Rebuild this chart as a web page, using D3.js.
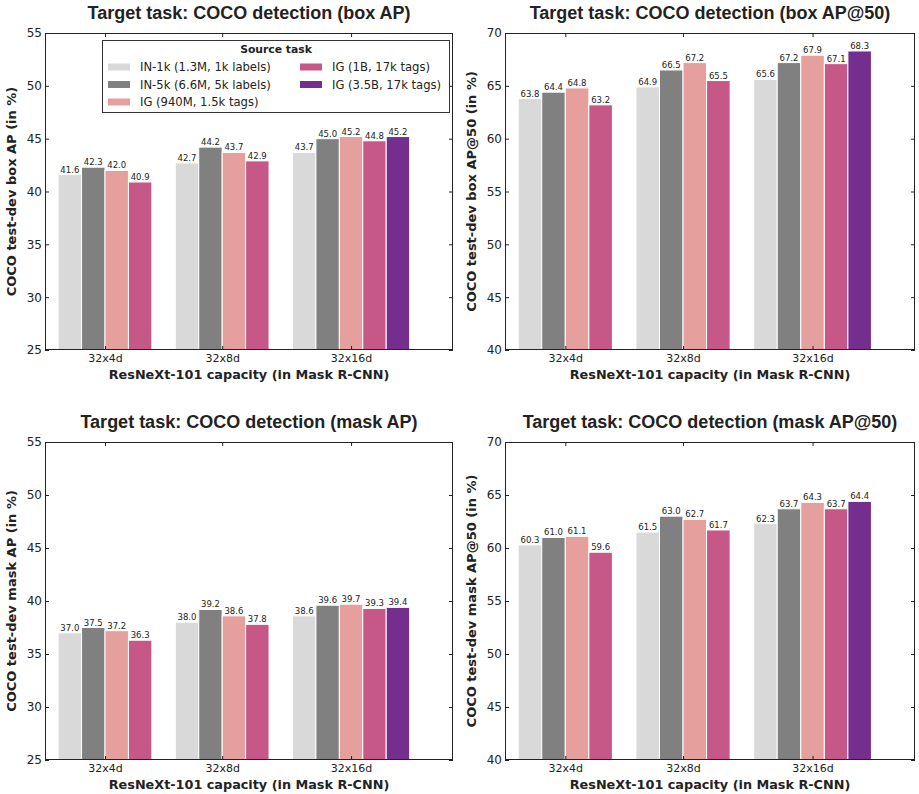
<!DOCTYPE html>
<html>
<head>
<meta charset="utf-8">
<script src="https://cdn.jsdelivr.net/npm/d3@7"></script>
<style>
  body { margin: 0; background: #fff; }
  svg text { fill: #222; }
</style>
</head>
<body>
<svg id="chart" width="919" height="794"></svg>
<script>
// ---------- data ----------
const categories = ["32x4d", "32x8d", "32x16d"];
const sources = [
  "IN-1k (1.3M, 1k labels)",
  "IN-5k (6.6M, 5k labels)",
  "IG (940M, 1.5k tags)",
  "IG (1B, 17k tags)",
  "IG (3.5B, 17k tags)"
];
const sourceColors = ["#d9d9d9", "#808080", "#e59f9d", "#c55887", "#742f8e"];

const boxAP     = [[41.6, 42.3, 42.0, 40.9], [42.7, 44.2, 43.7, 42.9], [43.7, 45.0, 45.2, 44.8, 45.2]];
const boxAP50   = [[63.8, 64.4, 64.8, 63.2], [64.9, 66.5, 67.2, 65.5], [65.6, 67.2, 67.9, 67.1, 68.3]];
const maskAP    = [[37.0, 37.5, 37.2, 36.3], [38.0, 39.2, 38.6, 37.8], [38.6, 39.6, 39.7, 39.3, 39.4]];
const maskAP50  = [[60.3, 61.0, 61.1, 59.6], [61.5, 63.0, 62.7, 61.7], [62.3, 63.7, 64.3, 63.7, 64.4]];

const ticksAP   = [25, 30, 35, 40, 45, 50, 55];
const ticksAP50 = [40, 45, 50, 55, 60, 65, 70];

const titles = [
  "Target task: COCO detection (box AP)",
  "Target task: COCO detection (box AP@50)",
  "Target task: COCO detection (mask AP)",
  "Target task: COCO detection (mask AP@50)"
];
const yLabels = [
  "COCO test-dev box AP (in %)",
  "COCO test-dev box AP@50 (in %)",
  "COCO test-dev mask AP (in %)",
  "COCO test-dev mask AP@50 (in %)"
];
const xLabel = "ResNeXt-101 capacity (in Mask R-CNN)";
const legendTitle = "Source task";

// ---------- layout ----------
const panels = [
  { data: boxAP,    ticks: ticksAP,   x: 45,  y: 33,  w: 408, h: 317, title: titles[0], ylab: yLabels[0], legend: true },
  { data: boxAP50,  ticks: ticksAP50, x: 505, y: 33,  w: 410, h: 317, title: titles[1], ylab: yLabels[1] },
  { data: maskAP,   ticks: ticksAP,   x: 45,  y: 442, w: 408, h: 318, title: titles[2], ylab: yLabels[2] },
  { data: maskAP50, ticks: ticksAP50, x: 505, y: 442, w: 410, h: 318, title: titles[3], ylab: yLabels[3] }
];

const svg = d3.select("#chart");
const sans = "'DejaVu Sans', sans-serif";
const helv = "'Liberation Sans', Arial, sans-serif";

panels.forEach(p => {
  const g = svg.append("g").attr("transform", `translate(${p.x},${p.y})`);

  // x in "bar units": each group occupies 5 bar slots
  const xu = d3.scaleLinear().domain([-0.56, 16.85]).range([0, p.w]);
  const xGroup = d3.scaleBand().domain(categories).range([xu(0), xu(15)]).paddingInner(0).paddingOuter(0);
  const xBar = d3.scaleBand().domain(d3.range(5)).range([0, xGroup.bandwidth()]).padding(0);
  const y = d3.scaleLinear().domain([p.ticks[0], p.ticks[p.ticks.length - 1]]).range([p.h, 0]);

  const tickPos = d3.scaleOrdinal()
    .domain(categories)
    .range(categories.map((c, i) => xGroup(c) + xBar.bandwidth() * p.data[i].length / 2));

  // bars
  categories.forEach((c, i) => {
    const gg = g.append("g");
    gg.selectAll("rect")
      .data(p.data[i])
      .join("rect")
      .attr("x", (d, j) => xGroup(c) + xBar(j))
      .attr("y", d => y(d))
      .attr("width", xBar.bandwidth())
      .attr("height", d => p.h - y(d))
      .attr("fill", (d, j) => sourceColors[j])
      .attr("stroke", "#fff")
      .attr("stroke-width", 1);
    gg.selectAll("text")
      .data(p.data[i])
      .join("text")
      .attr("x", (d, j) => xGroup(c) + xBar(j) + xBar.bandwidth() / 2)
      .attr("y", d => y(d) - 2)
      .attr("text-anchor", "middle")
      .style("font-family", sans)
      .style("font-size", "8.5px")
      .text(d => d.toFixed(1));
  });

  // axes (ticks pointing inward on all four sides)
  const styleAxis = sel => {
    sel.select(".domain").remove();
    sel.selectAll(".tick line").attr("stroke", "#222");
    sel.selectAll(".tick text").style("font-family", sans).attr("fill", "#222");
  };
  g.append("g").attr("transform", `translate(0,${p.h})`)
    .call(d3.axisBottom(tickPos).tickSize(-4).tickSizeOuter(0).tickPadding(4))
    .call(styleAxis).call(s => s.selectAll(".tick text").style("font-size", "11px"));
  g.append("g")
    .call(d3.axisTop(tickPos).tickSize(-4).tickSizeOuter(0).tickFormat(""))
    .call(styleAxis);
  g.append("g")
    .call(d3.axisLeft(y).tickValues(p.ticks).tickSize(-4).tickSizeOuter(0).tickPadding(3).tickFormat(d3.format("d")))
    .call(styleAxis).call(s => s.selectAll(".tick text").style("font-size", "12px"));
  g.append("g").attr("transform", `translate(${p.w},0)`)
    .call(d3.axisRight(y).tickValues(p.ticks).tickSize(-4).tickSizeOuter(0).tickFormat(""))
    .call(styleAxis);

  // frame
  g.append("rect").attr("x", 0.5).attr("y", 0.5).attr("width", p.w - 1).attr("height", p.h - 1)
    .attr("fill", "none").attr("stroke", "#222").attr("stroke-width", 1);

  // title
  g.append("text").attr("x", p.w / 2).attr("y", -14).attr("text-anchor", "middle")
    .style("font-family", helv).style("font-weight", "bold").style("font-size", "18px")
    .text(p.title);
  // x label
  g.append("text").attr("x", p.w / 2).attr("y", p.h + 29).attr("text-anchor", "middle")
    .style("font-family", sans).style("font-weight", "bold").style("font-size", "12.8px")
    .text(xLabel);
  // y label
  g.append("text").attr("transform", `translate(-29,${p.h / 2}) rotate(-90)`).attr("text-anchor", "middle")
    .style("font-family", sans).style("font-weight", "bold").style("font-size", "13px")
    .text(p.ylab);

  // legend
  if (p.legend) {
    const lg = g.append("g").attr("transform", "translate(57,7)");
    lg.append("rect").attr("x", 0.5).attr("y", 0.5).attr("width", 347).attr("height", 72)
      .attr("fill", "#fff").attr("stroke", "#333").attr("stroke-width", 1);
    lg.append("text").attr("x", 174).attr("y", 13).attr("text-anchor", "middle")
      .style("font-family", sans).style("font-weight", "bold").style("font-size", "10.8px")
      .text(legendTitle);
    const perCol = 3;
    sources.forEach((s, k) => {
      const col = Math.floor(k / perCol), row = k % perCol;
      const ex = 6 + col * 192, ey = 27 + row * 17.5;
      lg.append("rect").attr("x", ex).attr("y", ey - 3.5).attr("width", 22).attr("height", 7)
        .attr("fill", sourceColors[k]);
      lg.append("text").attr("x", ex + 32).attr("y", ey + 4)
        .style("font-family", sans).style("font-size", "11.6px")
        .text(s);
    });
  }
});
</script>
</body>
</html>
